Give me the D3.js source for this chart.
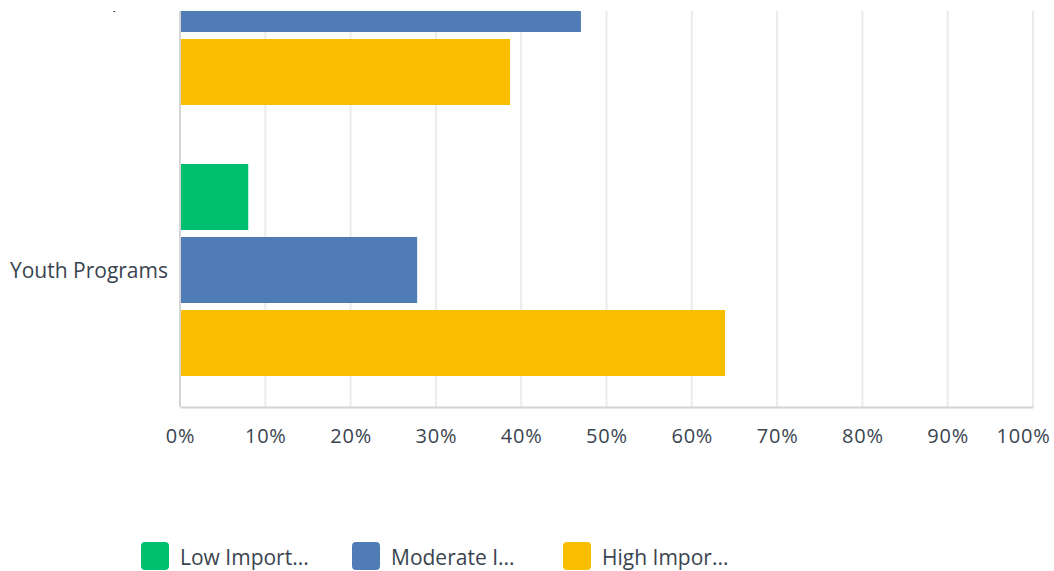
<!DOCTYPE html>
<html>
<head>
<meta charset="utf-8">
<script src="https://cdn.jsdelivr.net/npm/d3@7"></script>
<style>
  html, body { margin: 0; padding: 0; background: #fff; }
  svg { display: block; font-family: "Open Sans", "Noto Sans", sans-serif; }
</style>
</head>
<body>
<svg id="chart" width="1054" height="571"></svg>
<script>
// Survey results: share of respondents by importance rating
const categories = ["Public Spaces", "Youth Programs"];
const series = ["Low Importance", "Moderate Importance", "High Importance"];
const legendLabels = ["Low Import...", "Moderate I...", "High Impor..."];
const lowValues = [null, 8.0];
const moderateValues = [47.0, 27.8];
const highValues = [38.7, 63.9];
const tickValues = [0, 10, 20, 30, 40, 50, 60, 70, 80, 90, 100];
const colors = ["#00bf6f", "#507cb6", "#f9be00"];

const seriesValues = [lowValues, moderateValues, highValues];

const svg = d3.select("#chart");
const textColor = "#3a4450";

// The plot is a scrolled view: the first category sits partly above the visible top.
const plotTop = 11, plotBottom = 407;
const x = d3.scaleLinear().domain([0, 100]).range([180, 1033]);
const y = d3.scaleBand().domain(categories).range([-136.5, 405.5]).padding(0);
const yInner = d3.scaleBand().domain(series)
  .range([29.5, y.bandwidth() - 29.5])
  .paddingInner(7 / 73).paddingOuter(0);

svg.append("defs").append("clipPath").attr("id", "plotClip")
  .append("rect").attr("x", 0).attr("y", plotTop)
  .attr("width", 1054).attr("height", plotBottom - plotTop);

const plot = svg.append("g").attr("clip-path", "url(#plotClip)");

// vertical gridlines
plot.append("g").selectAll("line")
  .data(tickValues.slice(1))
  .join("line")
  .attr("x1", d => x(d)).attr("x2", d => x(d))
  .attr("y1", plotTop).attr("y2", plotBottom)
  .attr("stroke", "#ebebeb").attr("stroke-width", 2);

// bars
const rows = [];
categories.forEach((c, ci) => {
  series.forEach((s, si) => {
    const v = seriesValues[si][ci];
    if (v != null) rows.push({ c, s, v, color: colors[si] });
  });
});

plot.append("g").selectAll("rect")
  .data(rows)
  .join("rect")
  .attr("x", x(0))
  .attr("y", d => y(d.c) + yInner(d.s))
  .attr("width", d => x(d.v) - x(0))
  .attr("height", yInner.bandwidth())
  .attr("fill", d => d.color);

// category labels
plot.append("g").selectAll("text")
  .data(categories)
  .join("text")
  .attr("x", 168)
  .attr("y", d => y(d) + y.bandwidth() / 2 + 7.5)
  .attr("text-anchor", "end")
  .attr("font-size", 21)
  .attr("fill", textColor)
  .text(d => d);

// left axis line
svg.append("line")
  .attr("x1", x(0)).attr("x2", x(0))
  .attr("y1", plotTop).attr("y2", plotBottom)
  .attr("stroke", "#d4d4d4").attr("stroke-width", 2);

// bottom axis
const xAxis = d3.axisBottom(x)
  .tickValues(tickValues)
  .tickSize(0)
  .tickPadding(0)
  .tickFormat(d => d + "%");

const axisG = svg.append("g")
  .attr("transform", `translate(0,${plotBottom})`)
  .call(xAxis);
axisG.select(".domain").attr("stroke", "#d4d4d4").attr("stroke-width", 2);
axisG.selectAll("text")
  .attr("y", 36)
  .attr("dy", null)
  .attr("font-size", 20)
  .attr("letter-spacing", 0.8)
  .attr("font-family", "\"Open Sans\", \"Noto Sans\", sans-serif")
  .attr("fill", textColor);
// keep the last label inside the right edge
axisG.selectAll(".tick").filter(d => d === 100).select("text")
  .attr("text-anchor", "end")
  .attr("x", 1050 - x(100));

// legend
const legend = svg.append("g").selectAll("g")
  .data(series)
  .join("g")
  .attr("transform", (d, i) => `translate(${141 + i * 211},542)`);

legend.append("rect")
  .attr("width", 28).attr("height", 28)
  .attr("rx", 4)
  .attr("fill", (d, i) => colors[i]);

legend.append("text")
  .attr("x", 39)
  .attr("y", 23)
  .attr("font-size", 21)
  .attr("fill", textColor)
  .text((d, i) => legendLabels[i]);
</script>
</body>
</html>
